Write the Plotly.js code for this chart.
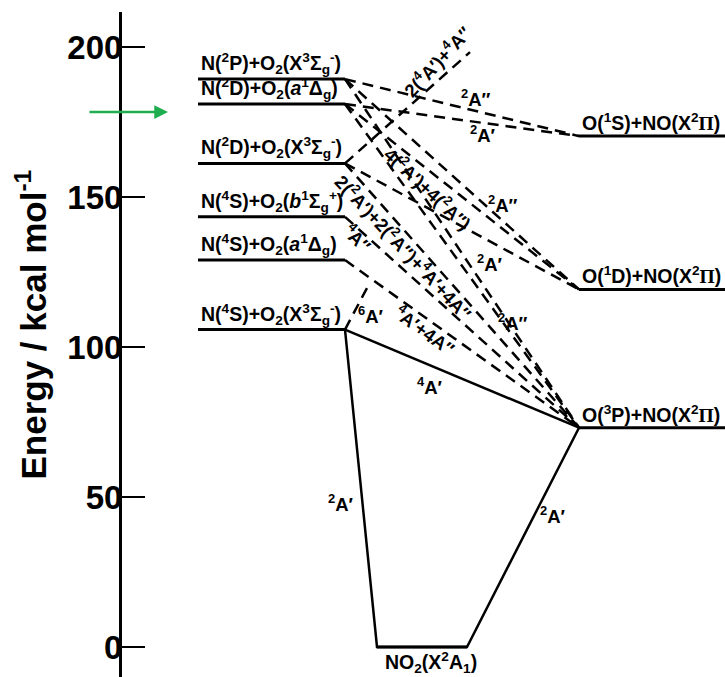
<!DOCTYPE html>
<html>
<head>
<meta charset="utf-8">
<script src="https://cdn.plot.ly/plotly-3.0.1.min.js"></script>
<style>
  html, body { margin: 0; padding: 0; background: #fff; }
  #chart { width: 725px; height: 677px; }
</style>
</head>
<body>
<div id="chart"></div>
<script>
// Energies in kcal/mol relative to the NO2(X2A1) minimum.

// N + O2 asymptotes (left column)
const reactantLabels = [
  'N(<sup>2</sup>P)+O<sub>2</sub>(X<sup>3</sup>Σ<sub>g</sub><sup>-</sup>)',
  'N(<sup>2</sup>D)+O<sub>2</sub>(<i>a</i><sup>1</sup>Δ<sub>g</sub>)',
  'N(<sup>2</sup>D)+O<sub>2</sub>(X<sup>3</sup>Σ<sub>g</sub><sup>-</sup>)',
  'N(<sup>4</sup>S)+O<sub>2</sub>(<i>b</i><sup>1</sup>Σ<sub>g</sub><sup>+</sup>)',
  'N(<sup>4</sup>S)+O<sub>2</sub>(<i>a</i><sup>1</sup>Δ<sub>g</sub>)',
  'N(<sup>4</sup>S)+O<sub>2</sub>(X<sup>3</sup>Σ<sub>g</sub><sup>-</sup>)'
];
const reactantEnergies = [189.3, 181.0, 161.2, 143.4, 129.0, 105.8];

// O + NO asymptotes (right column)
const PI = '<span style="font-family:\'Liberation Serif\'">Π</span>';
const productLabels = [
  'O(<sup>1</sup>S)+NO(X<sup>2</sup>' + PI + ')',
  'O(<sup>1</sup>D)+NO(X<sup>2</sup>' + PI + ')',
  'O(<sup>3</sup>P)+NO(X<sup>2</sup>' + PI + ')'
];
const productEnergies = [170.3, 119.2, 73.1];

// NO2 well
const wellLabel = 'NO<sub>2</sub>(X<sup>2</sup>A<sub>1</sub>)';
const wellEnergy = 0;

// Dashed correlations: reactant index -> product index
const dashedFrom = [0, 1, 0, 1, 2, 0, 1, 2, 3, 4];
const dashedTo   = [0, 0, 1, 1, 1, 2, 2, 2, 2, 2];

// Repulsive curves leaving a reactant asymptote, with their end energies
const repulsiveFrom = [2, 5];
const repulsiveEnd  = [198.3, 120.3];

// Energy of the excitation marker
const markerEnergy = 178.3;

const yTicks = [0, 50, 100, 150, 200];

// ---- horizontal layout of the diagram (x in plot units) ----
const X_LEFT = [198, 345];
const X_RIGHT = [579, 725];
const X_WELL = [377, 467];
const X_REPULSIVE_END = [470, 368];

const FONT = 'Liberation Sans, Arial, sans-serif';
const traces = [];

function seg(x, y, dash, width) {
  traces.push({
    type: 'scatter', mode: 'lines', x: x, y: y, hoverinfo: 'skip', showlegend: false,
    line: { color: '#000', width: width, dash: dash }
  });
}

// asymptote levels
reactantEnergies.forEach(e => seg(X_LEFT, [e, e], 'solid', 3));
productEnergies.forEach(e => seg(X_RIGHT, [e, e], 'solid', 3));
seg(X_WELL, [wellEnergy, wellEnergy], 'solid', 3);

// dashed correlation lines
const DASH = '11px,7px';
dashedFrom.forEach((f, i) => {
  seg([X_LEFT[1], X_RIGHT[0]], [reactantEnergies[f], productEnergies[dashedTo[i]]], DASH, 2.5);
});
repulsiveFrom.forEach((f, i) => {
  seg([X_LEFT[1], X_REPULSIVE_END[i]], [reactantEnergies[f], repulsiveEnd[i]], DASH, 2.5);
});

// solid ground-state paths through the NO2 well
const g = reactantEnergies[5], p = productEnergies[2];
seg([X_LEFT[1], X_WELL[0], X_WELL[1], X_RIGHT[0]], [g, wellEnergy, wellEnergy, p], 'solid', 2.5);
seg([X_LEFT[1], X_RIGHT[0]], [g, p], 'solid', 2.5);

// ---- text ----
const annotations = [];
const levelFont = { family: FONT, size: 19.5, color: '#000', weight: 'bold' };
function label(text, x, y, opts) {
  annotations.push(Object.assign({
    text: text, x: x, y: y, xref: 'x', yref: 'y', showarrow: false,
    font: { family: FONT, size: 18.5, color: '#000', weight: 'bold' }
  }, opts || {}));
}

reactantLabels.forEach((t, i) => label(t, 199, reactantEnergies[i],
  { xanchor: 'left', yanchor: 'bottom', font: levelFont }));
productLabels.forEach((t, i) => label(t, 580, productEnergies[i],
  { xanchor: 'left', yanchor: 'bottom', font: levelFont }));
label(wellLabel, 431, wellEnergy, { yanchor: 'top', font: levelFont });

// state symmetry labels: [text, x, energy, angle]
const stateTags = [
  ['2(<sup>4</sup>A′)+<sup>4</sup>A″', 437, 195.3, -47],
  ['<sup>2</sup>A″', 476, 183.0, 0],
  ['<sup>2</sup>A′', 483, 171.0, 0],
  ['4(<sup>2</sup>A′)+4(<sup>2</sup>A″)', 428, 153.0, 43],
  ['<sup>2</sup>A″', 503, 147.7, 0],
  ['2(<sup>2</sup>A′)+2(<sup>2</sup>A″)+<sup>4</sup>A′+4A″', 404, 133.3, 47],
  ['<sup>4</sup>A″', 358, 136.3, 45],
  ['<sup>6</sup>A′', 371, 110.7, 0],
  ['<sup>4</sup>A′+4A″', 425, 105.7, 36],
  ['<sup>2</sup>A′', 490, 128.0, 0],
  ['<sup>2</sup>A″', 513, 108.3, 0],
  ['<sup>4</sup>A′', 430, 87.0, 0],
  ['<sup>2</sup>A′', 341, 48.0, 0],
  ['<sup>2</sup>A′', 553, 44.0, 0]
];
stateTags.forEach(s => label(s[0], s[1], s[2], { textangle: s[3] }));

// axis title
annotations.push({
  text: 'Energy / kcal mol<sup>-1</sup>', textangle: -90, showarrow: false,
  xref: 'paper', yref: 'y', x: (31 - 122) / 603, y: 107.5, xanchor: 'center', yanchor: 'middle',
  font: { family: FONT, size: 35, color: '#000', weight: 'bold' }
});

// excitation marker
annotations.push({
  x: 168, y: markerEnergy, xref: 'x', yref: 'y', ax: -80, ay: 0, text: '',
  showarrow: true, arrowhead: 2, arrowsize: 1.1, arrowwidth: 2.5, arrowcolor: '#1fae4f', standoff: 0
});

const layout = {
  width: 725, height: 677,
  margin: { l: 122, r: 0, t: 12, b: 0 },
  paper_bgcolor: '#fff', plot_bgcolor: '#fff',
  showlegend: false,
  xaxis: { range: [122, 725], visible: false, fixedrange: true },
  yaxis: {
    range: [-10, 211.67], fixedrange: true,
    tickvals: yTicks, ticktext: yTicks.map(String),
    ticks: 'inside', ticklen: 23, tickwidth: 2.5, tickcolor: '#000',
    ticklabelstandoff: -10,
    showline: true, linewidth: 3, linecolor: '#000',
    showgrid: false, zeroline: false,
    tickfont: { family: FONT, size: 33, color: '#000', weight: 'bold' }
  },
  annotations: annotations
};

Plotly.newPlot('chart', traces, layout, { staticPlot: true, displayModeBar: false });
</script>
</body>
</html>
